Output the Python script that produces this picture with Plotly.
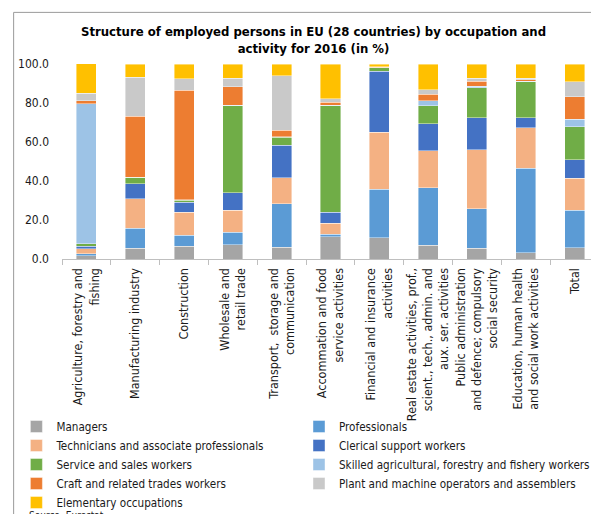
import plotly.graph_objects as go

# ---------------- data ----------------
categories = [
    "Agriculture, forestry and<br>fishing",
    "Manufacturing industry",
    "Construction",
    "Wholesale and<br>retail trade",
    "Transport,  storage and<br>communication",
    "Accommation and food<br>service activities",
    "Financial and insurance<br>activities",
    "Real estate activities, prof.,<br>scient., tech., admin. and<br>aux. ser. activities",
    "Public administration<br>and defence; compulsory<br>social security",
    "Education, human health<br>and social work activities",
    "Total",
]

managers      = [1.7, 5.6, 6.6, 7.2, 6.1, 11.4, 10.9, 7.0, 5.6, 3.1, 5.8]
professionals = [1.0, 10.1, 5.5, 6.4, 22.2, 1.2, 24.9, 29.5, 20.3, 43.5, 19.3]
technicians   = [2.6, 15.3, 11.8, 11.3, 13.3, 5.8, 29.2, 19.1, 30.1, 20.8, 16.2]
clerical      = [1.2, 7.7, 5.1, 9.2, 16.8, 5.7, 31.4, 13.8, 16.5, 5.1, 9.5]
service       = [1.4, 3.1, 1.2, 44.5, 4.1, 54.5, 1.6, 9.2, 15.4, 18.4, 17.1]
skilled_agri  = [71.7, 0.1, 0.3, 0.3, 0.2, 0.2, 0.1, 2.6, 0.8, 0.2, 3.8]
craft         = [1.5, 31.2, 56.0, 9.5, 3.3, 1.6, 0.2, 3.4, 2.4, 0.7, 11.6]
plant         = [4.0, 20.2, 5.9, 4.3, 28.1, 1.9, 0.4, 2.1, 1.6, 0.9, 7.5]
elementary    = [15.0, 6.6, 7.6, 7.3, 5.9, 17.7, 1.3, 13.3, 7.3, 7.3, 9.2]

series_names = [
    "Managers",
    "Professionals",
    "Technicians and associate professionals",
    "Clerical support workers",
    "Service and sales workers",
    "Skilled agricultural, forestry and fishery workers",
    "Craft and related trades workers",
    "Plant and machine operators and assemblers",
    "Elementary occupations",
]
series_values = [managers, professionals, technicians, clerical, service,
                 skilled_agri, craft, plant, elementary]
series_colors = ["#A5A5A5", "#5B9BD5", "#F4B183", "#4472C4", "#70AD47",
                 "#9DC3E6", "#ED7D31", "#C9C9C9", "#FFC000"]
series_legend = ["legend", "legend2", "legend", "legend2", "legend",
                 "legend2", "legend", "legend2", "legend"]

# ---------------- layout geometry (figure pixels; page has an 8px body margin) ----------------
OFF = 8
W, H = 599 - OFF, 514 - OFF
L = 61.7 - OFF
R = 0
T = 64 - OFF
B = H - (259.3 - OFF)
PW = W - L - R
PH = H - T - B

FONT = "Tahoma, 'DejaVu Sans Condensed', 'Liberation Sans', Arial, sans-serif"


def px_to_paper_x(px_page):
    return (px_page - OFF - L) / PW


def px_to_paper_y(py_page):
    return (H - B - (py_page - OFF)) / PH


fig = go.Figure()
for name, vals, col, lg in zip(series_names, series_values, series_colors, series_legend):
    fig.add_trace(go.Bar(
        x=categories, y=vals, name=name, legend=lg,
        marker=dict(color=col, line=dict(color="rgba(255,255,255,0.7)", width=0.6)),
    ))

frame_color = "#9a9a9a"
top_y = px_to_paper_y(12.3)
left_x = px_to_paper_x(13.3)

fig.update_layout(
    width=W, height=H,
    margin=dict(l=L, r=R, t=T, b=B, autoexpand=False),
    barmode="stack",
    bargap=0.59,
    plot_bgcolor="white",
    paper_bgcolor="white",
    font=dict(family=FONT, size=12, color="#1a1a1a"),
    title=dict(
        text="<b>Structure of employed persons in EU (28 countries) by occupation and<br>activity for 2016 (in %)</b>",
        font=dict(family=FONT, size=13, color="#000000"),
        xref="container", x=(313.5 - OFF) / W, xanchor="center",
        yref="container", y=1 - 28 / H, yanchor="top",
    ),
    xaxis=dict(
        type="category",
        tickangle=-90,
        tickson="boundaries",
        ticks="outside", ticklen=5, tickcolor="#bfbfbf",
        showline=True, linecolor="#bfbfbf", linewidth=1,
        showgrid=False,
        ticklabelstandoff=3,
        tickfont=dict(family=FONT, size=12.5, color="#1a1a1a"),
    ),
    yaxis=dict(
        range=[0, 100], dtick=20, tickformat=".1f",
        showgrid=False, zeroline=False, showline=False,
        ticks="", ticklabelstandoff=12,
        tickfont=dict(family=FONT, size=12, color="#1a1a1a"),
    ),
    legend=dict(
        xref="container", yref="container",
        x=8.4 / W, y=1 - 404 / H, xanchor="left", yanchor="top",
        traceorder="normal", bgcolor="rgba(0,0,0,0)",
        font=dict(family=FONT, size=11.6, color="#1a1a1a"),
    ),
    legend2=dict(
        xref="container", yref="container",
        x=291 / W, y=1 - 404 / H, xanchor="left", yanchor="top",
        traceorder="normal", bgcolor="rgba(0,0,0,0)",
        font=dict(family=FONT, size=11.6, color="#1a1a1a"),
    ),
    shapes=[
        dict(type="line", xref="paper", yref="paper",
             x0=left_x, x1=1.05, y0=top_y, y1=top_y,
             line=dict(color=frame_color, width=1)),
        dict(type="line", xref="paper", yref="paper",
             x0=left_x, x1=left_x, y0=top_y, y1=px_to_paper_y(530),
             line=dict(color=frame_color, width=1)),
    ],
    annotations=[
        dict(text="Source: Eurostat", xref="paper", yref="paper",
             x=px_to_paper_x(26.7), y=px_to_paper_y(509), xanchor="left", yanchor="top",
             showarrow=False, font=dict(family=FONT, size=10, color="#1a1a1a")),
    ],
    showlegend=True,
)

fig.write_html("out.html")
